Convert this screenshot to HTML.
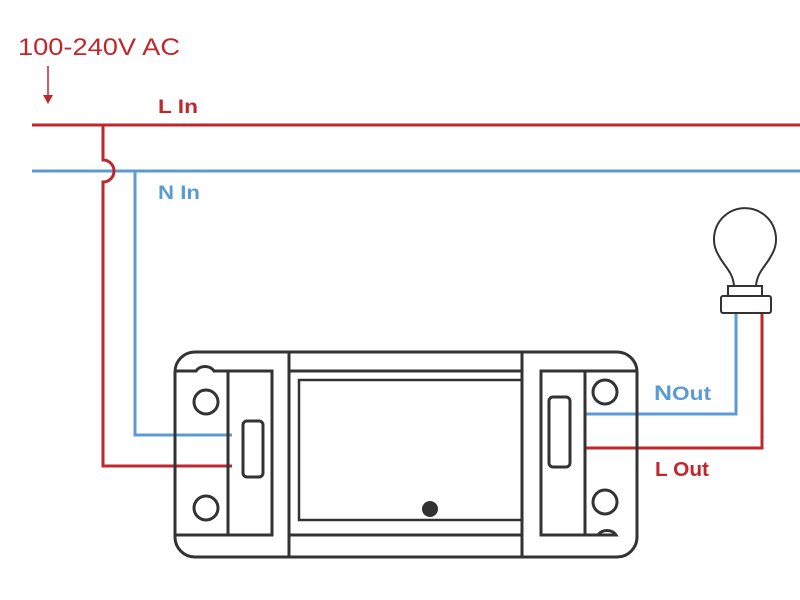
<!DOCTYPE html>
<html><head><meta charset="utf-8"><style>html,body{margin:0;padding:0;background:#fff}svg{display:block}</style></head>
<body>
<svg width="800" height="600" viewBox="0 0 800 600" xmlns="http://www.w3.org/2000/svg" font-family="Liberation Sans, sans-serif">
<rect width="800" height="600" fill="#fff"/>
<g fill="none" stroke-width="3">
<line x1="32" y1="125" x2="800" y2="125" stroke="#c0272d"/>
<line x1="32" y1="171" x2="800" y2="171" stroke="#5b9bd5"/>
<path d="M103 125 V160 A11 11 0 0 1 103 182 V466 H232" stroke="#c0272d"/>
<path d="M135 171 V435 H232" stroke="#5b9bd5"/>
<path d="M585 414 H736 V313" stroke="#5b9bd5"/>
<path d="M585 448 H762 V313" stroke="#c0272d"/>
<line x1="48" y1="66" x2="48" y2="96" stroke="#c0272d" stroke-width="1.5"/>
</g>
<polygon points="43,95 53,95 48,104" fill="#c0272d"/>
<g fill="none" stroke="#333" stroke-width="3">
<rect x="175" y="352" width="462" height="205" rx="20"/>
<line x1="289" y1="352" x2="289" y2="557"/>
<line x1="522" y1="352" x2="522" y2="557"/>
<line x1="289" y1="371" x2="522" y2="371"/>
<line x1="289" y1="535" x2="522" y2="535"/>
<rect x="299" y="380" width="223" height="140" stroke-width="2.5"/>
<path d="M176 371 H196 A10 8 0 0 1 214 371 H228 V535 H176"/>
<rect x="228" y="371" width="44" height="164"/>
<rect x="243" y="421" width="20" height="56" rx="4"/>
<circle cx="206" cy="402" r="12"/>
<circle cx="206" cy="508" r="12"/>
<path d="M636 371 H585 V535 H616 A10 8 0 0 0 598 535"/>
<rect x="541" y="371" width="44" height="164"/>
<rect x="549" y="397" width="21" height="70" rx="4"/>
<circle cx="605" cy="392" r="12"/>
<circle cx="605" cy="502" r="12"/>
<path d="M734 286 C733 272 724 266 719 256 A31 31 0 1 1 771 256 C766 266 757 272 756 286 Z" stroke-width="2"/>
<rect x="728" y="286" width="34" height="10" stroke-width="2"/>
<rect x="721" y="296" width="50" height="17" rx="2" stroke-width="2"/>
</g>
<circle cx="430" cy="509" r="8" fill="#333"/>
<text x="18" y="55" font-size="24" fill="#c0272d" textLength="162" lengthAdjust="spacingAndGlyphs">100-240V AC</text>
<text x="158" y="113" font-size="19" font-weight="bold" fill="#c0272d" textLength="40" lengthAdjust="spacingAndGlyphs">L In</text>
<text x="158" y="199" font-size="19" font-weight="bold" fill="#5b9bd5" textLength="42" lengthAdjust="spacingAndGlyphs">N In</text>
<text x="654" y="400" font-size="21" font-weight="bold" fill="#5b9bd5" textLength="57" lengthAdjust="spacingAndGlyphs">N<tspan font-size="19">Out</tspan></text>
<text x="655" y="476" font-size="20" font-weight="bold" fill="#c0272d" textLength="54" lengthAdjust="spacingAndGlyphs">L Out</text>
</svg>
</body></html>
